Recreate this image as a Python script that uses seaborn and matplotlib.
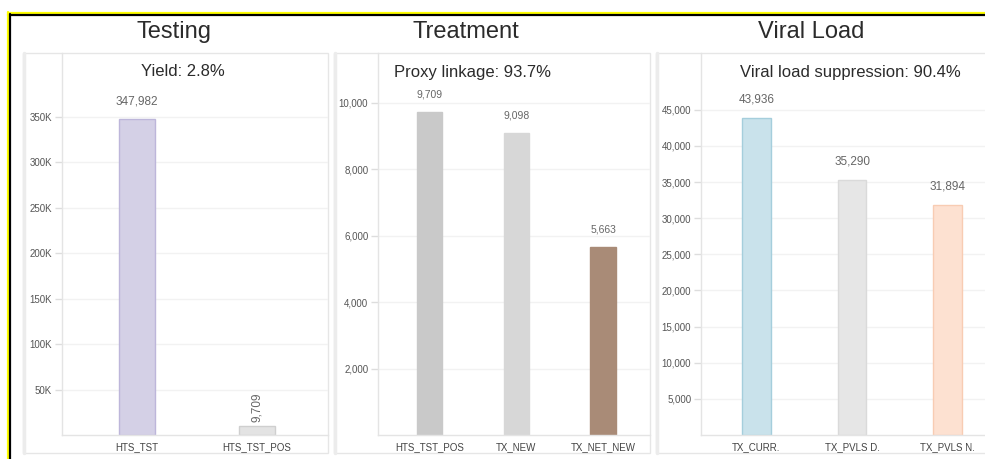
import matplotlib
matplotlib.use("Agg")
import matplotlib.pyplot as plt
from matplotlib.patches import Rectangle
from matplotlib.lines import Line2D
from matplotlib.ticker import FixedLocator, FuncFormatter
import seaborn as sns
import pandas as pd

sns.set_theme(style="white")
plt.rcParams["font.family"] = ["Liberation Sans", "DejaVu Sans"]

# ---- data -------------------------------------------------------------
section_titles = ["Testing", "Treatment", "Viral Load"]
subtitles = ["Yield: 2.8%", "Proxy linkage: 93.7%", "Viral load suppression: 90.4%"]

testing_cats = ["HTS_TST", "HTS_TST_POS"]
testing_vals = [347982, 9709]
testing_ticks = [50000, 100000, 150000, 200000, 250000, 300000, 350000]

treatment_cats = ["HTS_TST_POS", "TX_NEW", "TX_NET_NEW"]
treatment_vals = [9709, 9098, 5663]
treatment_ticks = [2000, 4000, 6000, 8000, 10000]

viral_cats = ["TX_CURR.", "TX_PVLS D.", "TX_PVLS N."]
viral_vals = [43936, 35290, 31894]
viral_ticks = [5000, 10000, 15000, 20000, 25000, 30000, 35000, 40000, 45000]

# ---- styling ----------------------------------------------------------
W, H = 985, 459
fig = plt.figure(figsize=(W / 100, H / 100), dpi=100)
fig.patch.set_facecolor("white")


def fx(x):
    return x / W


def fy(y):
    return 1 - y / H


panels = [
    dict(cats=testing_cats, vals=testing_vals, ticks=testing_ticks,
         fmt=lambda v, p: f"{int(v / 1000)}K",
         fills=["#d4d0e6", "#e3e3e3"], edges=["#bdb6da", "#cfcfcf"],
         ax_px=(62, 328), card_px=(23, 328), ylim=420000,
         xlim=(-0.625, 1.59), width=0.3, lab_size=8.5, lab_pad=8,
         title_x=174, sub_x=183),
    dict(cats=treatment_cats, vals=treatment_vals, ticks=treatment_ticks,
         fmt=lambda v, p: f"{int(v):,}",
         fills=["#c9c9c9", "#d7d7d7", "#a98b77"], edges=["#c9c9c9", "#d7d7d7", "#a98b77"],
         ax_px=(378, 650), card_px=(334, 650), ylim=11500,
         xlim=(-0.59, 2.54), width=0.29, lab_size=7.5, lab_pad=9,
         title_x=466, sub_x=473),
    dict(cats=viral_cats, vals=viral_vals, ticks=viral_ticks,
         fmt=lambda v, p: f"{int(v):,}",
         fills=["#c9e2eb", "#e6e6e6", "#fde1d1"], edges=["#a5cedc", "#dadada", "#f8ccb3"],
         ax_px=(701, 985), card_px=(656, 990), ylim=52870,
         xlim=(-0.58, 2.39), width=0.3, lab_size=8.5, lab_pad=9,
         title_x=811, sub_x=850),
]

AX_TOP, AX_BOT, CARD_BOT = 53, 435, 453

for i, p in enumerate(panels):
    # card outline behind each chart
    cx0, cx1 = p["card_px"]
    fig.add_artist(Rectangle((fx(cx0), fy(CARD_BOT)), fx(cx1) - fx(cx0),
                             fy(AX_TOP) - fy(CARD_BOT), transform=fig.transFigure,
                             fill=False, ec="#e6e6e6", lw=1, zorder=0))
    fig.add_artist(Line2D([fx(cx0 + 1), fx(cx0 + 1)], [fy(CARD_BOT), fy(AX_TOP)],
                          transform=fig.transFigure, color="#ececec", lw=2.5, zorder=0))

    x0, x1 = p["ax_px"]
    ax = fig.add_axes([fx(x0), fy(AX_BOT), fx(x1) - fx(x0), fy(AX_TOP) - fy(AX_BOT)])
    ax.set_facecolor("none")

    df = pd.DataFrame({"cat": p["cats"], "val": p["vals"]})
    sns.barplot(data=df, x="cat", y="val", hue="cat", palette=p["fills"],
                width=p["width"], legend=False, ax=ax, saturation=1)
    for bar, ec in zip(ax.patches, p["edges"]):
        bar.set_edgecolor(ec)
        bar.set_linewidth(1)

    ax.set_xlim(*p["xlim"])
    ax.set_ylim(0, p["ylim"])
    ax.yaxis.set_major_locator(FixedLocator(p["ticks"]))
    ax.yaxis.set_major_formatter(FuncFormatter(p["fmt"]))
    ax.set_xlabel("")
    ax.set_ylabel("")

    ax.yaxis.grid(True, color="#f2f2f2", lw=1)
    ax.set_axisbelow(True)
    for s in ["top", "right"]:
        ax.spines[s].set_visible(False)
    for s in ["left", "bottom"]:
        ax.spines[s].set_color("#e4e4e4")
        ax.spines[s].set_linewidth(1)

    ax.tick_params(axis="y", length=5, color="#dddddd", width=1, labelsize=7,
                   labelcolor="#555555", pad=2, left=True)
    ax.tick_params(axis="x", length=0, labelsize=7, labelcolor="#444444", pad=5)

    # value labels
    for j, cont in enumerate(ax.containers):
        v = p["vals"][j]
        if i == 0 and j == 1:
            ax.bar_label(cont, labels=[f"{v:,}"], padding=3, rotation=90,
                         fontsize=p["lab_size"], color="#666666")
        else:
            ax.bar_label(cont, labels=[f"{v:,}"], padding=p["lab_pad"],
                         fontsize=p["lab_size"], color="#666666")

    fig.text(fx(p["title_x"]), fy(32), section_titles[i], ha="center", va="center",
             fontsize=17, color="#2b2b2b")
    fig.text(fx(p["sub_x"]), fy(72), subtitles[i], ha="center", va="center",
             fontsize=12, color="#2b2b2b")

# frame along the top and left edges
fig.add_artist(Line2D([fx(8), 1], [fy(12.5), fy(12.5)], transform=fig.transFigure,
                      color="#ffff00", lw=1.6, zorder=5))
fig.add_artist(Line2D([fx(8), 1], [fy(14.5), fy(14.5)], transform=fig.transFigure,
                      color="#000000", lw=1.6, zorder=5))
fig.add_artist(Line2D([fx(8), fx(8)], [fy(12), 0], transform=fig.transFigure,
                      color="#ffff00", lw=1.6, zorder=5))
fig.add_artist(Line2D([fx(10), fx(10)], [fy(14), 0], transform=fig.transFigure,
                      color="#000000", lw=1.6, zorder=5))

fig.savefig("out.png", dpi=100)
